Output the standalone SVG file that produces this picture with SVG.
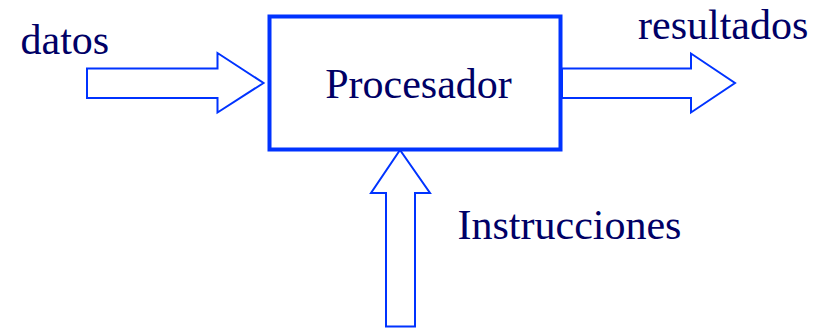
<svg xmlns="http://www.w3.org/2000/svg" width="819" height="328" viewBox="0 0 819 328">
  <style>
    .label { font-family: "Liberation Serif", "Times New Roman", serif; font-size: 42px; fill: #000066; }
    .box { fill: #ffffff; stroke: #0033ff; stroke-width: 4; }
    .flow { fill: #ffffff; stroke: #0033ff; stroke-width: 2; stroke-linejoin: miter; }
  </style>
  <rect width="819" height="328" fill="#ffffff"/>

  <g id="connectors">
    <!-- input arrow: datos -->
    <polygon class="flow" points="87,68.5 217.5,68.5 217.5,53 263.5,83 217.5,112.5 217.5,98 87,98"/>
    <!-- output arrow: resultados -->
    <polygon class="flow" points="562,68.5 691,68.5 691,53.5 735,83 691,112.5 691,98 562,98"/>
    <!-- upward arrow: Instrucciones -->
    <polygon class="flow" points="386,326.5 386,193 371,193 400,150 430,193 415,193 415,326.5"/>
  </g>

  <g id="procesador">
    <rect class="box" x="269.5" y="16.5" width="291" height="133"/>
    <text class="label" x="418.5" y="97.5" text-anchor="middle">Procesador</text>
  </g>

  <g id="datos">
    <text class="label" x="20.5" y="53.5">datos</text>
  </g>

  <g id="resultados">
    <text class="label" x="638" y="38.5">resultados</text>
  </g>

  <g id="instrucciones">
    <text class="label" x="457.5" y="238.5">Instrucciones</text>
  </g>
</svg>
